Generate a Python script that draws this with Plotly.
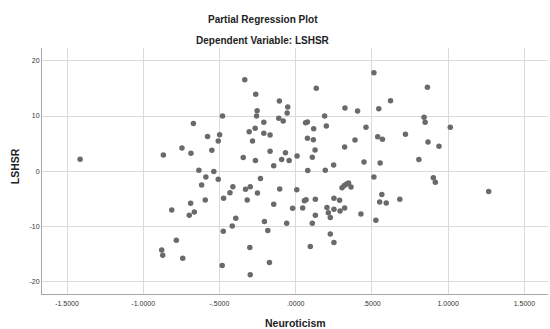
import plotly.graph_objects as go

# Partial regression residuals: Neuroticism (x) vs LSHSR (y)
neuroticism = [
    -1.414, -0.671, -0.480, -0.578, -0.499, -0.508, -0.746, -0.868, -0.687, -0.550,
    -0.635, -0.537, -0.589, -0.508, -0.617, -0.431, -0.473, -0.593, -0.689, -0.813,
    -0.698, -0.665, -0.475, -0.783, -0.879, -0.872, -0.741, -0.482, -0.334, -0.262,
    0.135, 0.513, 0.622, -0.107, -0.253, -0.052, -0.056, -0.257, -0.111, -0.082,
    -0.209, 0.323, 0.406, 0.545, 0.190, 0.065, 0.077, 0.201, 0.118, -0.266,
    -0.305, -0.209, -0.168, -0.283, 0.461, 0.538, 0.569, 0.077, 0.116, 0.389,
    0.321, 0.127, -0.168, -0.067, -0.344, -0.264, -0.092, -0.043, 0.009, 0.109,
    -0.144, 0.249, 0.448, 0.554, 0.079, 0.194, -0.231, 0.513, -0.412, -0.329,
    -0.298, -0.251, -0.318, -0.105, 0.007, -0.144, -0.020, 0.046, 0.057, 0.068,
    0.129, 0.129, 0.109, 0.205, 0.214, 0.227, 0.251, 0.288, 0.251, 0.291,
    0.321, 0.304, 0.319, 0.334, 0.347, 0.363, 0.428, 0.565, 0.551, 0.594,
    0.526, -0.393, -0.416, -0.205, -0.183, -0.059, -0.301, -0.172, -0.298, 0.227,
    0.251, 0.096, 0.864, 0.842, 0.849, 1.014, 0.720, 0.868, 0.940, 0.808,
    0.903, 0.916, 1.266, 0.683,
]
lshsr = [
    2.18, 8.62, 10.01, 6.27, 6.63, 5.49, 4.22, 2.96, 3.26, 3.81,
    0.19, -0.06, -1.02, -1.44, -2.47, -3.88, -4.87, -5.18, -5.78, -6.99,
    -7.95, -7.35, -10.84, -12.47, -14.22, -15.18, -15.72, -17.03, 16.57, 13.93,
    15.02, 17.84, 12.78, 12.72, 10.97, 11.64, 10.55, 10.01, 9.59, 9.10,
    8.87, 11.46, 10.91, 11.33, 10.01, 8.80, 8.92, 8.20, 7.71, 7.78,
    7.17, 6.88, 6.57, 5.49, 7.97, 6.23, 5.81, 5.98, 5.72, 5.67,
    4.40, 3.86, 3.63, 3.37, 2.47, 1.93, 2.11, 1.93, 2.78, 2.54,
    1.02, 1.15, 1.69, 1.51, 0.12, 0.19, -1.29, -1.02, -2.78, -3.25,
    -2.78, -3.92, -5.18, -3.19, -3.32, -5.96, -6.68, -6.63, -5.31, -5.13,
    -5.05, -7.95, -9.39, -6.57, -7.48, -8.38, -4.87, -5.24, -6.86, -7.17,
    -6.63, -2.96, -2.59, -2.29, -2.11, -2.83, -7.71, -4.22, -5.54, -5.72,
    -8.85, -8.49, -9.88, -9.10, -10.73, -9.39, -13.81, -16.52, -18.74, -11.33,
    -12.90, -13.63, 15.20, 9.77, 8.87, 7.97, 6.70, 5.31, 4.53, 2.14,
    -1.15, -1.98, -3.68, -5.05,
]

x_ticks = [-1.5, -1.0, -0.5, 0.0, 0.5, 1.0, 1.5]
x_tick_labels = ["-1.5000", "-1.0000", "-.5000", ".0000", ".5000", "1.0000", "1.5000"]
y_ticks = [-20, -10, 0, 10, 20]
y_tick_labels = ["-20", "-10", "0", "10", "20"]

FONT = "Liberation Sans, Arial, sans-serif"
GRID = "#dadada"

fig = go.Figure(
    go.Scatter(
        x=neuroticism,
        y=lshsr,
        mode="markers",
        marker=dict(size=5.5, color="#6a6a6a", line=dict(width=0)),
        hoverinfo="x+y",
    )
)

fig.update_xaxes(
    range=[-1.664, 1.655],
    tickvals=x_ticks,
    ticktext=x_tick_labels,
    showgrid=True,
    gridcolor=GRID,
    gridwidth=1,
    zeroline=False,
    showline=True,
    linecolor="#a8a8a8",
    linewidth=1,
    ticks="",
    ticklabelstandoff=3,
    tickfont=dict(family=FONT, size=7, color="#333333"),
)
fig.update_yaxes(
    range=[-22.2, 22.3],
    tickvals=y_ticks,
    ticktext=y_tick_labels,
    showgrid=True,
    gridcolor=GRID,
    gridwidth=1,
    zeroline=False,
    showline=True,
    linecolor="#a8a8a8",
    linewidth=1,
    ticks="",
    tickfont=dict(family=FONT, size=7, color="#333333"),
)

fig.update_layout(
    width=550,
    height=329,
    margin=dict(l=42, r=2, t=48, b=35),
    paper_bgcolor="white",
    plot_bgcolor="white",
    showlegend=False,
    annotations=[
        dict(text="<b>Partial Regression Plot</b>", xref="paper", yref="paper",
             x=0.436, y=1.114, showarrow=False, xanchor="center", yanchor="middle",
             font=dict(family=FONT, size=10, color="#222222")),
        dict(text="<b>Dependent Variable: LSHSR</b>", xref="paper", yref="paper",
             x=0.436, y=1.0325, showarrow=False, xanchor="center", yanchor="middle",
             font=dict(family=FONT, size=10, color="#222222")),
        dict(text="<b>Neuroticism</b>", xref="paper", yref="paper",
             x=0.5, y=-0.118, showarrow=False, xanchor="center", yanchor="middle",
             font=dict(family=FONT, size=10.5, color="#222222")),
        dict(text="<b>LSHSR</b>", xref="paper", yref="paper",
             x=-0.053, y=0.52, showarrow=False, xanchor="center", yanchor="middle",
             textangle=-90,
             font=dict(family=FONT, size=10.5, color="#222222")),
    ],
)

fig.write_html("out.html")
